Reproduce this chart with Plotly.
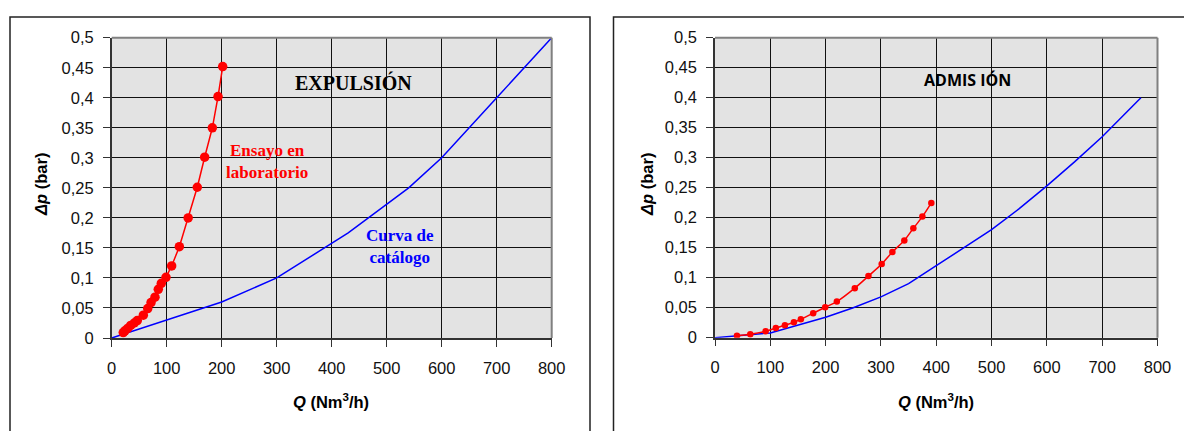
import plotly.graph_objects as go

# ---- EXPULSIÓN: laboratory test vs. catalogue curve ----
exp_lab_q = [21, 24, 29, 34.5, 41, 46.5, 57.5, 65.5, 71.5, 78.7, 84.7, 90.2, 98.7,
             109, 123, 139, 155.6, 169, 183, 193.3, 201.8]
exp_lab_dp = [0.009, 0.012, 0.016, 0.021, 0.025, 0.029, 0.038, 0.049, 0.059, 0.068,
              0.081, 0.091, 0.101, 0.120, 0.152, 0.200, 0.251, 0.301, 0.350, 0.402, 0.452]
exp_cat_q = [0, 100, 200, 300, 430, 540, 600, 700, 800]
exp_cat_dp = [0, 0.03, 0.06, 0.10, 0.175, 0.25, 0.30, 0.40, 0.50]

# ---- ADMISIÓN: laboratory test vs. catalogue curve ----
adm_lab_q = [39.7, 63.8, 91.5, 110, 126.4, 142.6, 155.2, 177.5, 199.2, 220.3, 252.7,
             277.4, 301.4, 320.7, 342.3, 358.6, 374.9, 391.1]
adm_lab_dp = [0.0033, 0.0057, 0.0107, 0.0162, 0.0207, 0.0257, 0.0307, 0.0408, 0.0508,
              0.0602, 0.0826, 0.1027, 0.1227, 0.1428, 0.1622, 0.1823, 0.2018, 0.2247]
adm_cat_q = [0, 100, 200, 250, 300, 350, 400, 450, 500, 550, 600, 650, 700, 770]
adm_cat_dp = [0, 0.008, 0.034, 0.05, 0.068, 0.09, 0.12, 0.15, 0.18, 0.215, 0.253,
              0.293, 0.335, 0.40]

# ---- axis ticks ----
q_ticks = [0, 100, 200, 300, 400, 500, 600, 700, 800]
dp_ticks = [0, 0.05, 0.1, 0.15, 0.2, 0.25, 0.3, 0.35, 0.4, 0.45, 0.5]
dp_tick_labels = ["0", "0,05", "0,1", "0,15", "0,2", "0,25", "0,3", "0,35", "0,4",
                  "0,45", "0,5"]

W, H = 1184, 431
RED = "#ff0000"
BLUE = "#0000ff"
SANS = "Liberation Sans, Arial, sans-serif"
SERIF = "Liberation Serif, Times New Roman, serif"

fig = go.Figure()

fig.add_trace(go.Scatter(x=exp_cat_q, y=exp_cat_dp, mode="lines",
                         line=dict(color=BLUE, width=1.5),
                         xaxis="x", yaxis="y", showlegend=False))
fig.add_trace(go.Scatter(x=exp_lab_q, y=exp_lab_dp, mode="lines+markers",
                         line=dict(color=RED, width=1.5),
                         marker=dict(color=RED, size=9.5),
                         xaxis="x", yaxis="y", showlegend=False))
fig.add_trace(go.Scatter(x=adm_cat_q, y=adm_cat_dp, mode="lines",
                         line=dict(color=BLUE, width=1.5),
                         xaxis="x2", yaxis="y2", showlegend=False))
fig.add_trace(go.Scatter(x=adm_lab_q, y=adm_lab_dp, mode="lines+markers",
                         line=dict(color=RED, width=1.5, shape="spline"),
                         marker=dict(color=RED, size=6.5),
                         xaxis="x2", yaxis="y2", showlegend=False))


def x_axis(x0, x1, anchor):
    return dict(domain=[x0 / W, x1 / W], range=[0, 800], tickvals=q_ticks,
                showgrid=True, gridcolor="#111111", gridwidth=1,
                showline=True, linecolor="#333333", linewidth=1.5,
                ticks="outside", ticklen=7, tickcolor="#333333", tickwidth=1,
                ticklabelstandoff=7,
                tickfont=dict(family=SANS, size=16.5, color="#111111"),
                zeroline=False, anchor=anchor, fixedrange=True, automargin=False)


def y_axis(y0, y1, anchor):
    return dict(domain=[1 - y0 / H, 1 - y1 / H], range=[0, 0.5],
                tickvals=dp_ticks, ticktext=dp_tick_labels,
                showgrid=True, gridcolor="#111111", gridwidth=1,
                showline=True, linecolor="#333333", linewidth=1.5,
                ticks="outside", ticklen=7, tickcolor="#333333", tickwidth=1,
                ticklabelstandoff=6,
                tickfont=dict(family=SANS, size=16.5, color="#111111"),
                zeroline=False, anchor=anchor, fixedrange=True, automargin=False)


shapes = []
# outer chart frames
shapes.append(dict(type="rect", xref="paper", yref="paper",
                   x0=10 / W, x1=590 / W, y0=-0.1, y1=1 - 17 / H,
                   line=dict(color="#222222", width=1.5)))
shapes.append(dict(type="rect", xref="paper", yref="paper",
                   x0=613.5 / W, x1=1.1, y0=-0.1, y1=1 - 17 / H,
                   line=dict(color="#222222", width=1.5)))
# light grey top / right edges of each plot area
for xa, ya in (("x", "y"), ("x2", "y2")):
    shapes.append(dict(type="line", xref=f"{xa} domain", yref=f"{ya} domain",
                       x0=0, x1=1, y0=1, y1=1, layer="above",
                       line=dict(color="#808080", width=2)))
    shapes.append(dict(type="line", xref=f"{xa} domain", yref=f"{ya} domain",
                       x0=1, x1=1, y0=0, y1=1, layer="above",
                       line=dict(color="#808080", width=2)))

annotations = [
    dict(text="<b>EXPULSIÓN</b>", x=439, y=0.425, xref="x", yref="y",
         showarrow=False, font=dict(family=SERIF, size=20, color="#000000")),
    dict(text="<b>Ensayo en<br>laboratorio</b>", x=282, y=0.294, xref="x", yref="y",
         showarrow=False, font=dict(family=SERIF, size=17, color=RED)),
    dict(text="<b>Curva de<br>catálogo</b>", x=524, y=0.153, xref="x", yref="y",
         showarrow=False, font=dict(family=SERIF, size=17, color=BLUE)),
    dict(text="<b>ADMIS IÓN</b>", x=457, y=0.43, xref="x2", yref="y2",
         showarrow=False, font=dict(family="Open Sans, sans-serif", size=16,
                                    color="#000000")),
]

# axis titles
for cx in (331, 936):
    annotations.append(dict(text="<b><i>Q</i> (Nm<sup>3</sup>/h)</b>",
                            x=cx / W, y=1 - 401 / H, xref="paper", yref="paper",
                            xanchor="center", yanchor="middle", showarrow=False,
                            font=dict(family=SANS, size=16.5, color="#000000")))
for cx in (41, 647):
    annotations.append(dict(text="<b><i>Δp</i> (bar)</b>", textangle=-90,
                            x=cx / W, y=1 - 185 / H, xref="paper", yref="paper",
                            xanchor="center", yanchor="middle", showarrow=False,
                            font=dict(family=SANS, size=16.5, color="#000000")))

fig.update_layout(
    width=W, height=H,
    margin=dict(l=0, r=0, t=0, b=0, pad=0, autoexpand=False),
    paper_bgcolor="#ffffff",
    plot_bgcolor="#e3e3e3",
    xaxis=x_axis(111.7, 551.7, "y"),
    yaxis=y_axis(338, 37.7, "x"),
    xaxis2=x_axis(715, 1157.5, "y2"),
    yaxis2=y_axis(337.7, 37.7, "x2"),
    shapes=shapes,
    annotations=annotations,
)

fig.write_html("out.html")
